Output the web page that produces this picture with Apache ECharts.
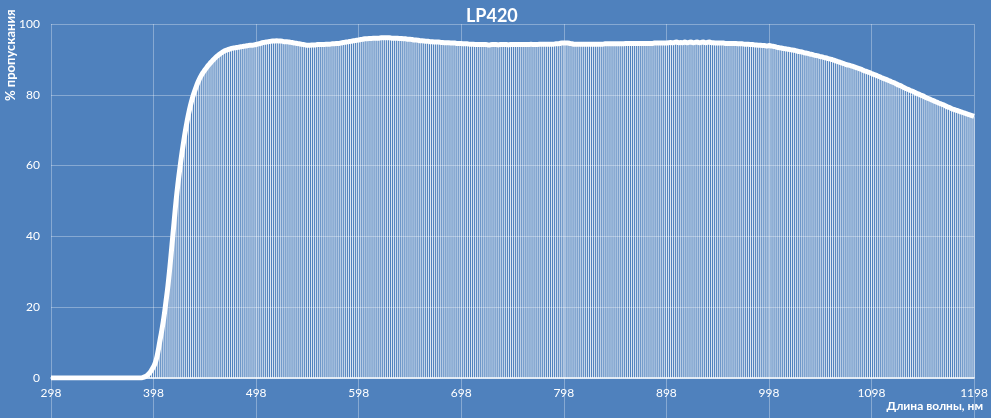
<!DOCTYPE html>
<html>
<head>
<meta charset="utf-8">
<script src="https://cdn.jsdelivr.net/npm/echarts@6/dist/echarts.min.js"></script>
<style>
html,body{margin:0;padding:0;background:#4f81bd;}
#chart{width:991px;height:418px;}
</style>
</head>
<body>
<div id="chart"></div>
<script>
const chartTitle = 'LP420';
const yAxisTitle = '% пропускания';
const xAxisTitle = 'Длина волны, нм';
const yTicks = [0, 20, 40, 60, 80, 100];

const wavelengths = [
298,300,302,304,306,308,310,312,314,316,
318,320,322,324,326,328,330,332,334,336,
338,340,342,344,346,348,350,352,354,356,
358,360,362,364,366,368,370,372,374,376,
378,380,382,384,386,388,390,392,394,396,
398,400,402,404,406,408,410,412,414,416,
418,420,422,424,426,428,430,432,434,436,
438,440,442,444,446,448,450,452,454,456,
458,460,462,464,466,468,470,472,474,476,
478,480,482,484,486,488,490,492,494,496,
498,500,502,504,506,508,510,512,514,516,
518,520,522,524,526,528,530,532,534,536,
538,540,542,544,546,548,550,552,554,556,
558,560,562,564,566,568,570,572,574,576,
578,580,582,584,586,588,590,592,594,596,
598,600,602,604,606,608,610,612,614,616,
618,620,622,624,626,628,630,632,634,636,
638,640,642,644,646,648,650,652,654,656,
658,660,662,664,666,668,670,672,674,676,
678,680,682,684,686,688,690,692,694,696,
698,700,702,704,706,708,710,712,714,716,
718,720,722,724,726,728,730,732,734,736,
738,740,742,744,746,748,750,752,754,756,
758,760,762,764,766,768,770,772,774,776,
778,780,782,784,786,788,790,792,794,796,
798,800,802,804,806,808,810,812,814,816,
818,820,822,824,826,828,830,832,834,836,
838,840,842,844,846,848,850,852,854,856,
858,860,862,864,866,868,870,872,874,876,
878,880,882,884,886,888,890,892,894,896,
898,900,902,904,906,908,910,912,914,916,
918,920,922,924,926,928,930,932,934,936,
938,940,942,944,946,948,950,952,954,956,
958,960,962,964,966,968,970,972,974,976,
978,980,982,984,986,988,990,992,994,996,
998,1000,1002,1004,1006,1008,1010,1012,1014,1016,
1018,1020,1022,1024,1026,1028,1030,1032,1034,1036,
1038,1040,1042,1044,1046,1048,1050,1052,1054,1056,
1058,1060,1062,1064,1066,1068,1070,1072,1074,1076,
1078,1080,1082,1084,1086,1088,1090,1092,1094,1096,
1098,1100,1102,1104,1106,1108,1110,1112,1114,1116,
1118,1120,1122,1124,1126,1128,1130,1132,1134,1136,
1138,1140,1142,1144,1146,1148,1150,1152,1154,1156,
1158,1160,1162,1164,1166,1168,1170,1172,1174,1176,
1178,1180,1182,1184,1186,1188,1190,1192,1194,1196,
1198
];

const transmission = [
0,0,0,0,0,0,0,0,0,0,
0,0,0,0,0,0,0,0,0,0,
0,0,0,0,0,0,0,0,0,0,
0,0,0,0,0,0,0,0,0,0,
0,0,0,0,0,0.2,0.4,0.8,1.4,2.2,
3.2,4.6,7.0,10.2,13.4,17.0,21.4,26.0,31.6,37.8,
44.0,50.2,55.4,60.0,64.2,68.0,71.4,74.4,77.0,79.2,
81.0,82.6,84.0,85.2,86.2,87.0,87.8,88.5,89.2,89.8,
90.4,90.9,91.4,91.8,92.2,92.5,92.7,92.9,93.1,93.2,
93.3,93.4,93.5,93.6,93.7,93.8,93.9,94.0,94.0,94.1,
94.2,94.4,94.5,94.7,94.8,94.9,95.0,95.1,95.2,95.2,
95.3,95.2,95.2,95.1,95.0,95.0,94.9,94.8,94.7,94.6,
94.5,94.4,94.3,94.2,94.1,94.0,94.0,94.1,94.1,94.1,
94.2,94.2,94.2,94.2,94.3,94.3,94.3,94.4,94.4,94.5,
94.5,94.6,94.7,94.8,94.9,95.0,95.1,95.2,95.3,95.4,
95.5,95.6,95.7,95.8,95.8,95.9,95.9,96.0,96.0,96.0,
96.0,96.1,96.1,96.1,96.1,96.1,96.0,96.0,96.0,96.0,
95.9,95.9,95.8,95.8,95.7,95.7,95.6,95.5,95.5,95.4,
95.3,95.3,95.2,95.1,95.1,95.0,95.0,94.9,94.9,94.9,
94.8,94.8,94.7,94.7,94.7,94.6,94.6,94.6,94.5,94.5,
94.5,94.4,94.4,94.4,94.3,94.3,94.3,94.2,94.2,94.2,
94.2,94.2,94.2,94.1,94.1,94.2,94.2,94.2,94.1,94.2,
94.2,94.2,94.2,94.1,94.2,94.2,94.2,94.2,94.2,94.2,
94.2,94.2,94.2,94.2,94.3,94.2,94.2,94.2,94.3,94.3,
94.3,94.3,94.3,94.3,94.3,94.3,94.4,94.4,94.5,94.6,
94.6,94.6,94.6,94.5,94.4,94.3,94.3,94.3,94.3,94.3,
94.3,94.3,94.3,94.3,94.3,94.3,94.3,94.3,94.3,94.3,
94.4,94.4,94.4,94.4,94.4,94.4,94.4,94.4,94.4,94.4,
94.5,94.5,94.5,94.5,94.5,94.5,94.5,94.5,94.5,94.5,
94.5,94.5,94.5,94.5,94.6,94.6,94.6,94.6,94.6,94.6,
94.6,94.7,94.8,94.7,94.8,94.9,94.7,94.8,94.7,94.9,
94.7,94.8,94.9,94.7,94.8,94.9,94.7,94.8,94.9,94.7,
94.8,94.9,94.7,94.7,94.6,94.6,94.6,94.6,94.6,94.5,
94.5,94.5,94.5,94.5,94.5,94.4,94.4,94.4,94.3,94.3,
94.3,94.2,94.2,94.1,94.1,94.0,94.0,93.9,93.9,93.8,
93.9,93.8,93.7,93.6,93.4,93.3,93.2,93.1,93.0,92.9,
92.8,92.7,92.6,92.5,92.3,92.2,92.1,91.9,91.8,91.7,
91.5,91.4,91.2,91.1,91.0,90.8,90.7,90.5,90.4,90.2,
90.1,89.9,89.7,89.5,89.3,89.1,88.9,88.7,88.5,88.4,
88.2,88.0,87.8,87.6,87.4,87.2,86.9,86.7,86.5,86.3,
86.0,85.8,85.6,85.3,85.1,84.8,84.6,84.4,84.1,83.9,
83.6,83.4,83.1,82.8,82.6,82.3,82.0,81.7,81.5,81.2,
81.0,80.7,80.4,80.2,79.9,79.7,79.4,79.1,78.9,78.6,
78.4,78.1,77.9,77.6,77.4,77.2,76.9,76.6,76.4,76.1,
75.9,75.7,75.5,75.3,75.1,74.9,74.7,74.5,74.3,74.1,
73.9
];

const FONT = 'Lato, "Open Sans", "DejaVu Sans", sans-serif';
const gridColor = 'rgba(255,255,255,0.32)';

const chart = echarts.init(document.getElementById('chart'), null, {renderer: 'canvas'});
chart.setOption({
  backgroundColor: '#4f81bd',
  animation: false,
  title: {
    text: chartTitle,
    left: 461,
    top: 2,
    textStyle: {color: '#ffffff', fontFamily: FONT, fontWeight: 'bold', fontSize: 18}
  },
  grid: {left: 51, right: 16, top: 24, bottom: 40, containLabel: false},
  xAxis: {
    type: 'category',
    data: wavelengths,
    boundaryGap: false,
    axisLine: {show: true, lineStyle: {color: '#ffffff', width: 1.5}},
    axisTick: {show: true, interval: 49, length: 40, inside: false, lineStyle: {color: gridColor}},
    axisLabel: {interval: 49, color: '#ffffff', fontFamily: FONT, fontSize: 12, margin: 9},
    splitLine: {show: true, interval: 49, lineStyle: {color: gridColor, width: 1}}
  },
  yAxis: {
    type: 'value',
    min: yTicks[0],
    max: yTicks[yTicks.length - 1],
    interval: yTicks[1] - yTicks[0],
    axisLine: {show: false},
    axisTick: {show: false},
    axisLabel: {color: '#ffffff', fontFamily: FONT, fontSize: 12, margin: 11},
    splitLine: {show: true, lineStyle: {color: gridColor, width: 1}}
  },
  series: [
    {
      type: 'bar',
      data: transmission,
      barWidth: 1,
      itemStyle: {color: 'rgba(255,255,255,0.82)'},
      silent: true,
      z: 2
    },
    {
      type: 'line',
      data: transmission,
      smooth: true,
      showSymbol: false,
      symbol: 'none',
      lineStyle: {color: '#ffffff', width: 5},
      silent: true,
      z: 3
    }
  ],
  graphic: [
    {
      type: 'text',
      x: 4,
      y: 101,
      rotation: Math.PI / 2,
      style: {text: yAxisTitle, fill: '#ffffff', font: 'bold 13px ' + FONT, textVerticalAlign: 'top', textAlign: 'left'}
    },
    {
      type: 'text',
      right: 8,
      top: 400,
      style: {text: xAxisTitle, fill: '#ffffff', font: 'bold 12px ' + FONT}
    }
  ]
});
</script>
</body>
</html>
